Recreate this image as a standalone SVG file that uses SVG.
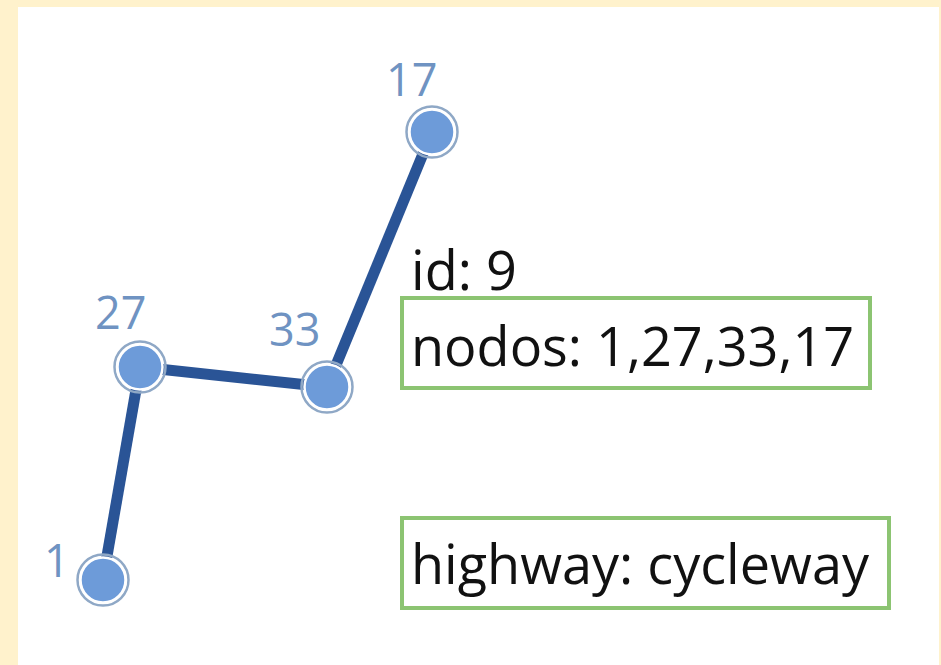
<svg xmlns="http://www.w3.org/2000/svg" width="941" height="665" viewBox="0 0 941 665">
<style>
.edge{stroke:#2a5496;stroke-width:11;fill:none}
.ring{fill:none;stroke:#8fa8c6;stroke-width:2.5}
.dot{fill:#6d9bd9;stroke:#ffffff;stroke-width:2.5}
.lbl{font-family:"Open Sans","Noto Sans",sans-serif;font-size:45px;fill:#6f93c2}
.txt{font-family:"Open Sans","Noto Sans",sans-serif;font-size:54px;fill:#111111}
.box{fill:none;stroke:#8cc472;stroke-width:4}
</style>
<rect x="0" y="0" width="941" height="665" fill="#fff2cc"/>
<rect x="18" y="7" width="921" height="658" fill="#ffffff"/>
<g id="connectors">
<line class="edge" x1="103" y1="579" x2="140" y2="367"/>
<line class="edge" x1="140" y1="367" x2="327" y2="387"/>
<line class="edge" x1="327" y1="387" x2="432" y2="132"/>
</g>
<g id="node-17">
<circle class="ring" cx="432" cy="132" r="25.5"/>
<circle class="dot" cx="432" cy="132" r="22.5"/>
<text class="lbl" x="386" y="96">17</text>
</g>
<g id="node-27">
<circle class="ring" cx="140" cy="367" r="25.5"/>
<circle class="dot" cx="140" cy="367" r="22.5"/>
<text class="lbl" x="95" y="329">27</text>
</g>
<g id="node-33">
<circle class="ring" cx="327" cy="387" r="25.5"/>
<circle class="dot" cx="327" cy="387" r="22.5"/>
<text class="lbl" x="269" y="346">33</text>
</g>
<g id="node-1">
<circle class="ring" cx="103" cy="580" r="25.5"/>
<circle class="dot" cx="103" cy="580" r="22.5"/>
<text class="lbl" x="44" y="577">1</text>
</g>
<g id="info">
<text class="txt" x="411" y="290">id: 9</text>
<rect class="box" x="402" y="298" width="468" height="90"/>
<text class="txt" x="411" y="366">nodos: 1,27,33,17</text>
<rect class="box" x="402" y="518" width="487" height="90"/>
<text class="txt" x="411" y="584">highway: cycleway</text>
</g>
</svg>
